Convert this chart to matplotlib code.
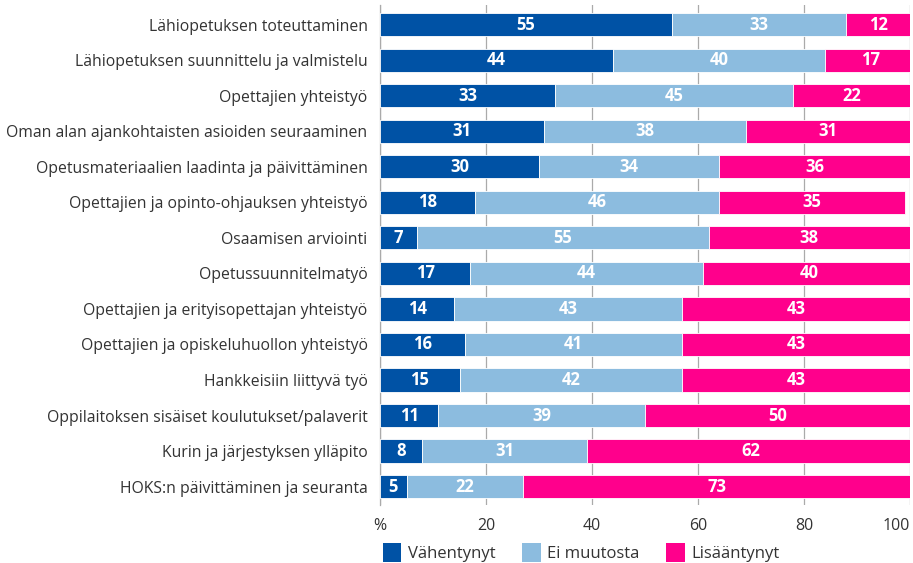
import numpy as np
import matplotlib
matplotlib.use('Agg')
import matplotlib.pyplot as plt
from matplotlib.patches import Patch

# chart data
categories = ['Lähiopetuksen toteuttaminen',
              'Lähiopetuksen suunnittelu ja valmistelu',
              'Opettajien yhteistyö',
              'Oman alan ajankohtaisten asioiden seuraaminen',
              'Opetusmateriaalien laadinta ja päivittäminen',
              'Opettajien ja opinto-ohjauksen yhteistyö',
              'Osaamisen arviointi',
              'Opetussuunnitelmatyö',
              'Opettajien ja erityisopettajan yhteistyö',
              'Opettajien ja opiskeluhuollon yhteistyö',
              'Hankkeisiin liittyvä työ',
              'Oppilaitoksen sisäiset koulutukset/palaverit',
              'Kurin ja järjestyksen ylläpito',
              'HOKS:n päivittäminen ja seuranta']
decreased = [55, 44, 33, 31, 30, 18, 7, 17, 14, 16, 15, 11, 8, 5]
no_change = [33, 40, 45, 38, 34, 46, 55, 44, 43, 41, 42, 39, 31, 22]
increased = [12, 17, 22, 31, 36, 35, 38, 40, 43, 43, 43, 50, 62, 73]
series_names = ['Vähentynyt', 'Ei muutosta', 'Lisääntynyt']
tick_values = [0, 20, 40, 60, 80, 100]
tick_labels = ['%', '20', '40', '60', '80', '100']

colors = ['#0052a5', '#8cbcdf', '#ff008c']
text_color = '#333333'

plt.rcParams['font.family'] = ['Open Sans', 'DejaVu Sans']

fig = plt.figure(figsize=(9.13, 5.63), dpi=100)
ax = fig.add_axes([380 / 913, 1 - 505 / 563, 530 / 913, 500 / 563])

y = np.arange(len(categories))
left = np.zeros(len(categories))
for vals, col in zip([decreased, no_change, increased], colors):
    vals = np.array(vals, dtype=float)
    bars = ax.barh(y, vals, left=left, height=0.65, color=col,
                   edgecolor='white', linewidth=0.6, zorder=3)
    for b, v in zip(bars, vals):
        ax.text(b.get_x() + b.get_width() / 2, b.get_y() + b.get_height() / 2,
                '%d' % v, ha='center', va='center', color='white',
                fontsize=12, fontweight='bold', zorder=4)
    left += vals

ax.set_xlim(0, 100)
ax.set_ylim(len(categories) - 0.48, -0.56)
ax.set_yticks(y)
ax.set_yticklabels(categories, fontsize=11.3, color=text_color)
ax.set_xticks(tick_values)
ax.set_xticklabels(tick_labels, fontsize=11.5, color=text_color)
# last tick label sits at the right edge, keep it inside the figure
ax.get_xticklabels()[-1].set_horizontalalignment('right')
ax.tick_params(axis='both', length=0)
ax.tick_params(axis='y', pad=9)
ax.tick_params(axis='x', pad=9)
ax.grid(axis='x', color='#aaaaaa', linewidth=0.9, zorder=0)
for s in ['top', 'right', 'bottom']:
    ax.spines[s].set_visible(False)
ax.spines['left'].set_color('#aaaaaa')
ax.spines['left'].set_linewidth(0.9)

handles = [Patch(facecolor=c, edgecolor='none') for c in colors]
fig.legend(handles, series_names, loc='lower left',
           bbox_to_anchor=(368 / 913, -0.025), ncol=3, frameon=False,
           fontsize=12, handlelength=1.1, handleheight=1.4,
           handletextpad=0.4, columnspacing=1.6, labelcolor=text_color)

fig.savefig('out.png', dpi=100)
